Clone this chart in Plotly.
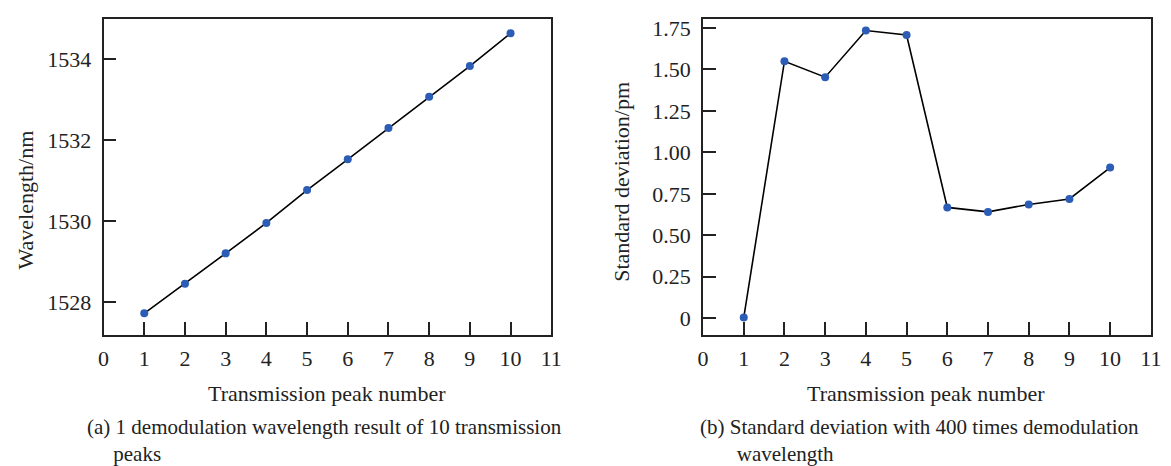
import plotly.graph_objects as go

# Data
peak_numbers = [1, 2, 3, 4, 5, 6, 7, 8, 9, 10]
wavelength_nm = [1527.73, 1528.46, 1529.21, 1529.96, 1530.77, 1531.53, 1532.30, 1533.07, 1533.83, 1534.64]
std_dev_pm = [0.004, 1.549, 1.453, 1.734, 1.707, 0.668, 0.641, 0.686, 0.719, 0.908]

x_ticks = list(range(0, 12))
left_y_ticks = [1528, 1530, 1532, 1534]
right_y_ticks = [0, 0.25, 0.5, 0.75, 1.0, 1.25, 1.5, 1.75]
right_y_ticktext = ["0", "0.25", "0.50", "0.75", "1.00", "1.25", "1.50", "1.75"]

W, H = 1171, 466
FONT = "Liberation Serif"
TXT = "#222222"
MARK = "#2b5cb6"

def px(x):
    return x / W

def py(y):
    return 1 - y / H

fig = go.Figure()
fig.add_trace(go.Scatter(x=peak_numbers, y=wavelength_nm, mode="lines+markers",
                         line=dict(color="black", width=1.6),
                         marker=dict(color=MARK, size=8),
                         xaxis="x", yaxis="y", showlegend=False))
fig.add_trace(go.Scatter(x=peak_numbers, y=std_dev_pm, mode="lines+markers",
                         line=dict(color="black", width=1.6),
                         marker=dict(color=MARK, size=8),
                         xaxis="x2", yaxis="y2", showlegend=False))

ydom = [py(334), py(15.7)]
axis_common = dict(showline=True, linecolor="#222", linewidth=1.8, mirror=True,
                   ticks="inside", ticklen=13, tickwidth=1.8, tickcolor="#222",
                   showgrid=False, zeroline=False,
                   tickfont=dict(family=FONT, size=22, color=TXT))

fig.update_layout(
    width=W, height=H,
    margin=dict(l=0, r=0, t=0, b=0),
    paper_bgcolor="white", plot_bgcolor="white",
    xaxis=dict(domain=[px(99), px(553.3)], range=[0, 11], tickvals=x_ticks,
               anchor="y", ticklabelstandoff=3, **axis_common),
    yaxis=dict(domain=ydom, range=[1527.2, 1535.0], tickvals=left_y_ticks,
               anchor="x", ticklabelstandoff=6, **axis_common),
    xaxis2=dict(domain=[px(707.3), px(1161.7)], range=[0, 11], tickvals=x_ticks,
                anchor="y2", ticklabelstandoff=3, **axis_common),
    yaxis2=dict(domain=ydom, range=[-0.1, 1.806], tickvals=right_y_ticks,
                ticktext=right_y_ticktext, anchor="x2", ticklabelstandoff=6, **axis_common),
)

def ann(text, x, y, size=22, xanchor="center", yanchor="middle", angle=0, pad=1):
    fig.add_annotation(text=text, x=px(x), y=py(y), xref="paper", yref="paper",
                       showarrow=False, xanchor=xanchor, yanchor=yanchor, align="left",
                       borderpad=pad, borderwidth=0,
                       textangle=angle, font=dict(family=FONT, size=size, color=TXT))

# axis titles
ann("Transmission peak number", 326, 393)
ann("Transmission peak number", 934, 393)
ann("Wavelength/nm", 20, 198, angle=-90)
ann("Standard deviation/pm", 625, 180, angle=-90)

# captions
NB = "&nbsp;"
ann("(a) 1 demodulation wavelength result of 10 transmission<br>" + NB * 5 + "peaks",
    82, 466, size=21, xanchor="left", yanchor="bottom", pad=0)
ann("(b) Standard deviation with 400 times demodulation<br>" + NB * 7 + "wavelength",
    704, 466, size=21, xanchor="left", yanchor="bottom", pad=0)

fig.write_html("out.html")
